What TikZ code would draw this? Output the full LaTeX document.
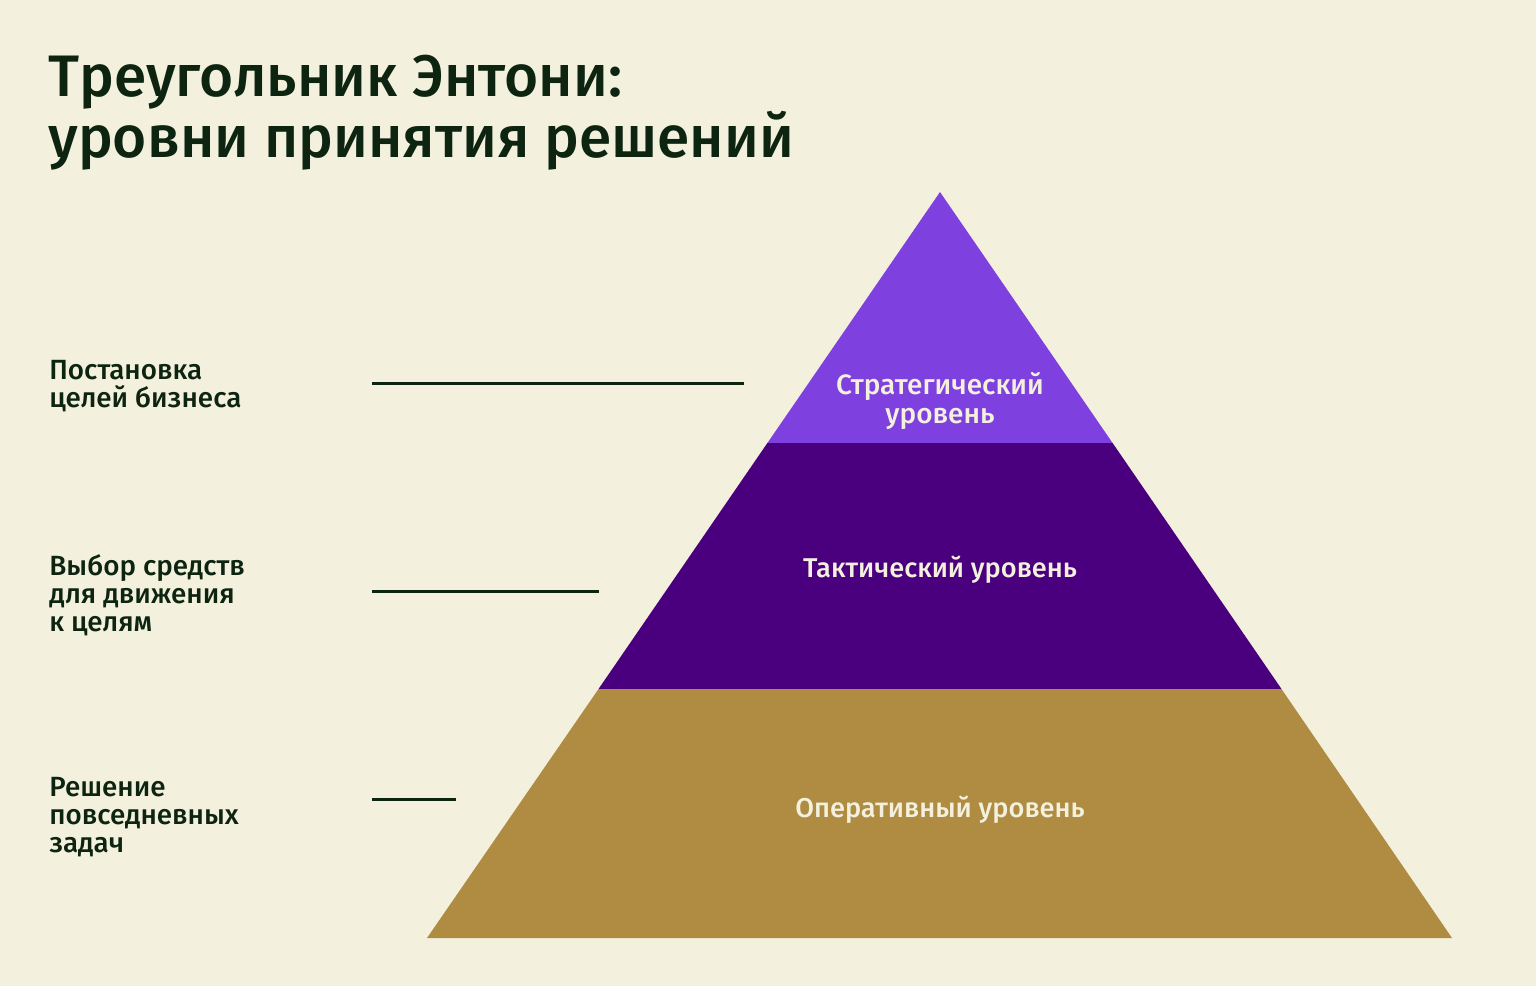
\documentclass[tikz,border=0pt]{standalone}
\usepackage{fontspec}
\setmainfont{Fira Sans}[BoldFont={Fira Sans Medium}]
\definecolor{bgc}{HTML}{F3F1DE}
\definecolor{ink}{HTML}{0D2410}
\definecolor{toppurple}{HTML}{7F40E0}
\definecolor{midpurple}{HTML}{4A007E}
\definecolor{gold}{HTML}{AF8C42}
\begin{document}
\begin{tikzpicture}[x=0.5pt,y=-0.5pt,
  title/.style={anchor=north west,inner sep=0pt,align=left,text=ink,
    font=\fontsize{29.3}{29.5}\selectfont\bfseries},
  sidelabel/.style={anchor=north west,inner sep=0pt,align=left,text=ink,
    font=\fontsize{13.9}{14}\selectfont\bfseries},
  levellabel/.style={inner sep=0pt,align=center,text=bgc,
    font=\fontsize{13.6}{14.5}\selectfont\bfseries},
  leader/.style={draw=ink,line width=1.5pt}]
\fill[bgc] (0,0) rectangle (1536,986);
\useasboundingbox (0,0) rectangle (1536,986);
% pyramid
\coordinate (apex) at (940,192);
\coordinate (l1) at (767.4,443);
\coordinate (r1) at (1112.6,443);
\coordinate (l2) at (598.5,689);
\coordinate (r2) at (1281.5,689);
\coordinate (bl) at (427,938);
\coordinate (br) at (1452,938);
\fill[toppurple] (apex) -- (r1) -- (l1) -- cycle;
\fill[midpurple] (l1) -- (r1) -- (r2) -- (l2) -- cycle;
\fill[gold] (l2) -- (r2) -- (br) -- (bl) -- cycle;
% title
\node[title] (ttl) at (48,55) {Треугольник Энтони:\\уровни принятия решений};
% level labels
\node[levellabel,anchor=north,font=\fontsize{14}{14.5}\selectfont\bfseries] (strat) at (940,372) {Стратегический\\уровень};
\node[levellabel,anchor=base] (tact) at (940,577) {Тактический уровень};
\node[levellabel,anchor=base] (oper) at (940,817) {Оперативный уровень};
% side labels
\node[sidelabel] (s1) at (49,360) {Постановка\\целей бизнеса};
\node[sidelabel] (s2) at (49,554) {Выбор средств\\для движения\\к целям};
\node[sidelabel] (s3) at (49,777) {Решение\\повседневных\\задач};
% leader lines
\coordinate (a1) at (372,383); \coordinate (b1) at (744,383);
\coordinate (a2) at (372,591); \coordinate (b2) at (599,591);
\coordinate (a3) at (372,799); \coordinate (b3) at (456,799);
\draw[leader] (a1) -- (b1);
\draw[leader] (a2) -- (b2);
\draw[leader] (a3) -- (b3);
\end{tikzpicture}
\end{document}
